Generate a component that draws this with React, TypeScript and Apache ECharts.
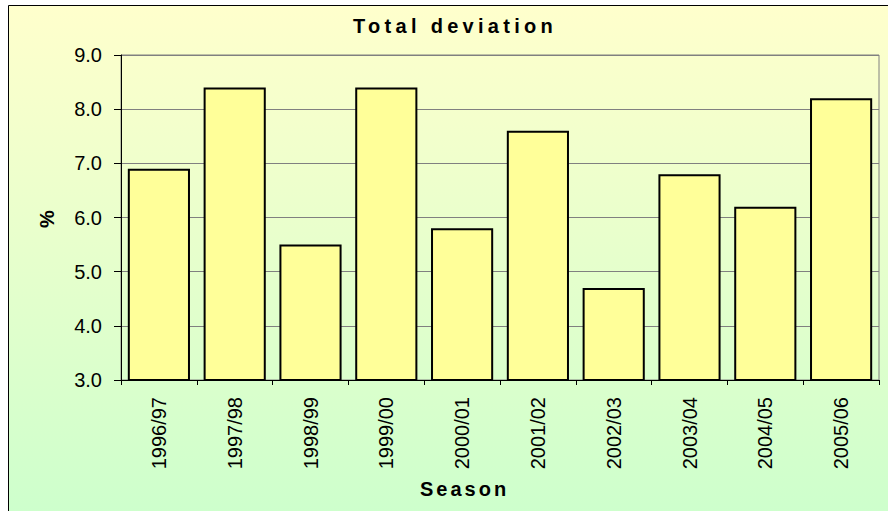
import React, { useEffect, useRef } from 'react';
import * as echarts from 'echarts';

const seasons = ['1996/97', '1997/98', '1998/99', '1999/00', '2000/01', '2001/02', '2002/03', '2003/04', '2004/05', '2005/06'];
const deviation = [6.9, 8.4, 5.5, 8.4, 5.8, 7.6, 4.7, 6.8, 6.2, 8.2];
const yMin = 3;
const yMax = 9;
const yStep = 1;
const titleText = 'Total deviation';
const xName = 'Season';
const yName = '%';

const FONT = '"Liberation Sans", Arial, sans-serif';

export default function App() {
  const ref = useRef<HTMLDivElement>(null);
  useEffect(() => {
    const el = ref.current as HTMLDivElement;
    const chart = echarts.init(el, null, { renderer: 'svg' });
    chart.setOption({
      animation: false,
      backgroundColor: '#ffffff',
      graphic: [
        {
          type: 'rect',
          z: -100,
          silent: true,
          shape: { x: 8.5, y: 5.5, width: 900, height: 520 },
          style: {
            fill: new echarts.graphic.LinearGradient(0, 0, 0, 1, [
              { offset: 0, color: '#FFFFCC' },
              { offset: 1, color: '#CCFFCC' },
            ]),
            stroke: '#000000',
            lineWidth: 1,
          },
        },
        {
          type: 'text',
          x: 353,
          y: 26,
          style: {
            text: titleText,
            font: 'bold 20px ' + FONT,
            fill: '#000000',
            align: 'left',
            verticalAlign: 'middle',
          },
        },
        {
          type: 'text',
          x: 420,
          y: 489,
          style: {
            text: xName,
            font: 'bold 20px ' + FONT,
            fill: '#000000',
            align: 'left',
            verticalAlign: 'middle',
          },
        },
        {
          type: 'text',
          x: 47,
          y: 219,
          rotation: Math.PI / 2,
          style: {
            text: yName,
            font: 'bold 20px ' + FONT,
            fill: '#000000',
            align: 'center',
            verticalAlign: 'middle',
          },
        },
      ],
      grid: {
        left: 121,
        top: 55,
        right: 9,
        bottom: 131,
        show: true,
        borderColor: '#808080',
        borderWidth: 1,
        backgroundColor: 'transparent',
      },
      xAxis: {
        type: 'category',
        data: seasons,
        boundaryGap: true,
        axisLine: { show: true, lineStyle: { color: '#000000', width: 1 } },
        axisTick: { show: true, length: 5, alignWithLabel: false, lineStyle: { color: '#000000' } },
        axisLabel: {
          rotate: 90,
          margin: 17,
          color: '#000000',
          fontSize: 20,
          fontFamily: FONT,
          interval: 0,
        },
        splitLine: { show: false },
      },
      yAxis: {
        type: 'value',
        min: yMin,
        max: yMax,
        interval: yStep,
        axisLine: { show: true, lineStyle: { color: '#000000', width: 1 } },
        axisTick: { show: true, length: 7, inside: false, lineStyle: { color: '#000000' } },
        axisLabel: {
          margin: 19,
          color: '#000000',
          fontSize: 20,
          fontFamily: FONT,
          formatter: (v: number) => v.toFixed(1),
        },
        splitLine: { show: true, lineStyle: { color: '#808080', width: 1 } },
      },
      series: [
        {
          type: 'bar',
          data: deviation,
          barCategoryGap: '18%',
          itemStyle: {
            color: '#FFFF99',
            borderColor: '#000000',
            borderWidth: 2,
          },
        },
      ],
    });
    const applySpacing = () => {
      el.querySelectorAll('text').forEach((t) => {
        if (t.textContent === titleText) t.setAttribute('letter-spacing', '4.3');
        else if (t.textContent === xName) t.setAttribute('letter-spacing', '3');
      });
    };
    applySpacing();
    chart.on('finished', applySpacing);
    const timer = setTimeout(applySpacing, 30);
    return () => {
      clearTimeout(timer);
      chart.dispose();
    };
  }, []);
  return <div ref={ref} style={{ position: 'absolute', left: 0, top: 0, width: 888, height: 511 }} />;
}
